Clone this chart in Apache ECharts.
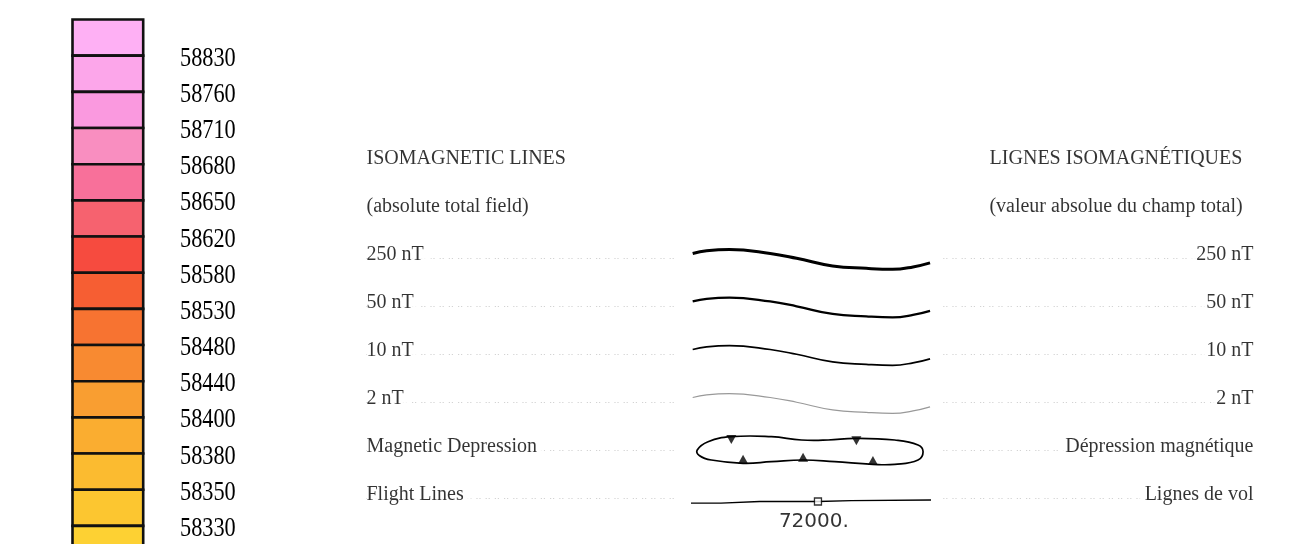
<!DOCTYPE html>
<html><head><meta charset="utf-8">
<script src="https://cdn.jsdelivr.net/npm/echarts@6/dist/echarts.min.js"></script>
<style>html,body{margin:0;padding:0;background:#fff}#c{width:1292px;height:544px}</style>
</head><body><div id="c"></div>
<script>
// ---- data ----
const binColors = ['#FEB0F4','#FCA6EA','#FA99DF','#F98EC0','#F8709A','#F6626F','#F64B3F','#F65E33',
                   '#F77331','#F88A31','#F99E31','#FAAD30','#FBBB30','#FCC630','#FDD133'];
const binLabels = ['58830','58760','58710','58680','58650','58620','58580','58530',
                   '58480','58440','58400','58380','58350','58330'];
const headerEN = ['ISOMAGNETIC LINES', '(absolute total field)'];
const headerFR = ['LIGNES ISOMAGNÉTIQUES', '(valeur absolue du champ total)'];
const itemsEN = ['250 nT','50 nT','10 nT','2 nT','Magnetic Depression','Flight Lines'];
const itemsFR = ['250 nT','50 nT','10 nT','2 nT','Dépression magnétique','Lignes de vol'];
const isolineRows = [2, 3, 4, 5];
const waveX  = [0.7, 6.5, 16, 33, 44, 59, 73, 84, 92.5, 99.6];
const waveDy = [0.01, -0.045, -0.072, 0.01, 0.11, 0.27, 0.32, 0.34, 0.29, 0.205];
const depressionLoop = [[2.6,6.104],[7.1,5.931],[16.8,5.827],[33.5,5.827],[46.0,5.896],[57.1,5.896],
  [68.2,5.860],[84.9,5.896],[94.6,6.0],[96.7,6.140],[94.6,6.3125],[84.9,6.402],[75.8,6.402],
  [59.9,6.348],[46.7,6.3125],[33.5,6.348],[21.7,6.381],[8.5,6.3125],[3.6,6.223]];
const depressionTicksDown = [[16.8,5.885],[68.9,5.91]];
const depressionTicksUp = [[21.7,6.295],[46.7,6.255],[75.8,6.325]];
const flightLine = [[0,7.21],[12.5,7.21],[13.3,7.183],[28.6,7.177],[52.9,7.177],[66.8,7.16],[100,7.146]];
const flightFiducial = [[52.9,7.177]];
const flightLabel = [[51.2,7.6,'72000.']];

// ---- chart ----
const SERIF = '"Liberation Serif", "Times New Roman", serif';
const chart = echarts.init(document.getElementById('c'), null, {renderer:'canvas'});
const leaderStyle = {color:'#a8a8a8', width:1.2, type:[1.2,1.8,1.2,5]};
const textLabel = (pos, align, pad) => ({show:true, position:pos, distance:0, align:align, verticalAlign:'middle',
  color:'#000', fontFamily:SERIF, fontSize:20, backgroundColor:'#fff', padding:pad,
  formatter: p => p.data[2]});
const hidden = {color:'rgba(0,0,0,0)'};

const option = {
  backgroundColor:'#fff',
  animation:false,
  grid:[
    {left:72.5, top:19.5, width:70.7, height:524.5},
    {left:366, top:135, width:888, height:408},
    {left:691, top:133, width:240, height:408}
  ],
  xAxis:[
    {gridIndex:0, type:'value', min:0, max:1, show:false},
    {gridIndex:1, type:'value', min:0, max:100, show:false},
    {gridIndex:2, type:'value', min:0, max:100, show:false}
  ],
  yAxis:[
    {gridIndex:0, type:'value', min:0, max:14.5, inverse:true, show:false},
    {gridIndex:1, type:'value', min:-0.5, max:8, inverse:true, show:false},
    {gridIndex:2, type:'value', min:-0.5, max:8, inverse:true, show:false}
  ],
  series:[
    {type:'custom', xAxisIndex:0, yAxisIndex:0, silent:true, clip:false,
     data: binColors.map((c,i)=>[i]),
     renderItem:(params, api)=>{
       const i = api.value(0);
       const p0 = api.coord([0,i]), p1 = api.coord([1,i+1]);
       return {type:'rect', shape:{x:p0[0], y:p0[1], width:p1[0]-p0[0], height:p1[1]-p0[1]},
               style:{fill:binColors[params.dataIndex], stroke:'#111', lineWidth:2.6}};
     }},
    {type:'custom', xAxisIndex:0, yAxisIndex:0, silent:true, clip:false, z:5,
     data: binLabels.map((t,i)=>[i+1]),
     renderItem:(params, api)=>{
       const p = api.coord([1, api.value(0)]);
       return {type:'text', x:p[0]+36.8, y:p[1]+3, scaleY:1.2,
               style:{text:binLabels[params.dataIndex], x:0, y:0, align:'left', verticalAlign:'middle',
                      fill:'#000', fontFamily:SERIF, fontSize:22.3}};
     }},
    // headers
    {type:'scatter', xAxisIndex:1, yAxisIndex:1, silent:true, symbolSize:1, itemStyle:hidden,
     data: headerEN.map((t,i)=>[0,i,t]), label:textLabel('right','left',0)},
    {type:'scatter', xAxisIndex:1, yAxisIndex:1, silent:true, symbolSize:1, itemStyle:hidden,
     data: headerFR.map((t,i)=>[84.46,i,t]), label:textLabel('inside','center',0)},
    // leaders
    {type:'lines', coordinateSystem:'cartesian2d', xAxisIndex:1, yAxisIndex:1, silent:true, z:1,
     lineStyle:leaderStyle,
     data: itemsEN.map((t,i)=>({coords:[[0,i+2+0.07],[34.9,i+2+0.07]]}))},
    {type:'lines', coordinateSystem:'cartesian2d', xAxisIndex:1, yAxisIndex:1, silent:true, z:1,
     lineStyle:leaderStyle,
     data: itemsFR.map((t,i)=>({coords:[[65.0,i+2+0.07],[100,i+2+0.07]]}))},
    // item labels
    {type:'scatter', xAxisIndex:1, yAxisIndex:1, silent:true, symbolSize:1, itemStyle:hidden, z:4,
     data: itemsEN.map((t,i)=>[0,i+2,t]), label:textLabel('right','left',[0,7,0,0])},
    {type:'scatter', xAxisIndex:1, yAxisIndex:1, silent:true, symbolSize:1, itemStyle:hidden, z:4,
     data: itemsFR.map((t,i)=>[100,i+2,t]), label:textLabel('left','right',[0,0,0,5])},
    // isolines
    ...isolineRows.map((r,k)=>({
      type:'line', xAxisIndex:2, yAxisIndex:2, silent:true, symbol:'none', smooth:0.45,
      lineStyle:{color:['#000','#000','#000','#999'][k], width:[3,2.3,1.7,1.2][k]},
      data: waveX.map((x,j)=>[x, r + waveDy[j]])
    })),
    // magnetic depression
    {type:'custom', xAxisIndex:2, yAxisIndex:2, silent:true, clip:false,
     data:[[0]],
     renderItem:(params, api)=>({type:'polygon',
       shape:{points: depressionLoop.map(p=>api.coord(p)), smooth:0.45},
       style:{fill:'none', stroke:'#000', lineWidth:1.7}})},
    {type:'scatter', xAxisIndex:2, yAxisIndex:2, silent:true, symbol:'triangle', symbolSize:[10,9],
     symbolRotate:180, itemStyle:{color:'#000'}, data: depressionTicksDown},
    {type:'scatter', xAxisIndex:2, yAxisIndex:2, silent:true, symbol:'triangle', symbolSize:[10,9],
     itemStyle:{color:'#000'}, data: depressionTicksUp},
    // flight line
    {type:'line', xAxisIndex:2, yAxisIndex:2, silent:true, symbol:'none',
     lineStyle:{color:'#000', width:1.3}, data: flightLine},
    {type:'scatter', xAxisIndex:2, yAxisIndex:2, silent:true, symbol:'rect', symbolSize:7, z:5,
     itemStyle:{color:'#fff', borderColor:'#000', borderWidth:1.3}, data: flightFiducial},
    {type:'scatter', xAxisIndex:2, yAxisIndex:2, silent:true, symbolSize:1, itemStyle:hidden,
     data: flightLabel,
     label:{show:true, position:'inside', align:'center', verticalAlign:'middle', color:'#000',
            fontFamily:'"DejaVu Sans", sans-serif', fontSize:20, formatter:p=>p.data[2]}}
  ]
};
chart.setOption(option);
</script></body></html>
